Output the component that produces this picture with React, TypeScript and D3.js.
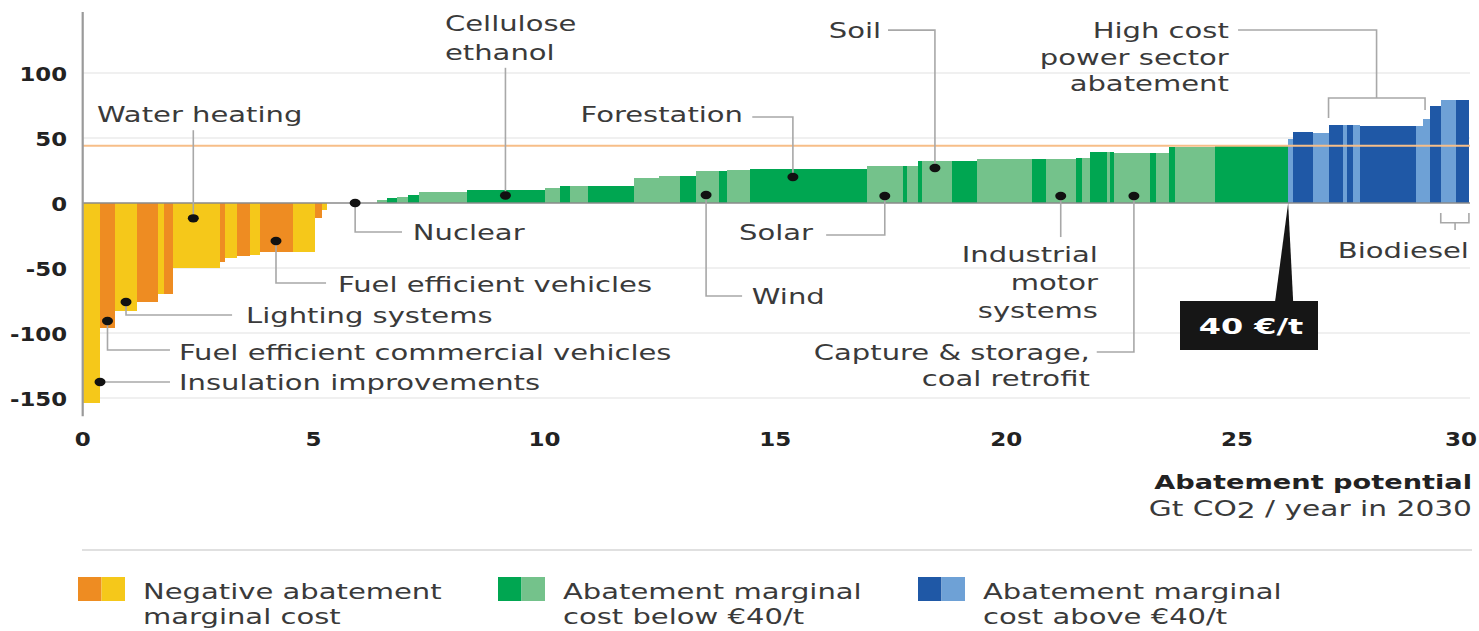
import React from 'react';
import * as d3 from 'd3';

// abatement levers, in merit order
const potential = [
  0.375, 0.325, 0.47, 0.47, 0.11, 0.195, 1.03, 0.11, 0.25, 0.29, 0.22, 0.72, 0.47, 0.145, 0.11,
  1.075,
  0.22, 0.22, 0.25, 0.22, 1.05, 1.695, 0.325, 0.2, 0.39, 1.0, 0.54, 0.455, 0.36, 0.48, 0.18, 0.5,
  2.54, 0.77, 0.09, 0.23, 0.095, 0.65, 0.54, 1.19, 0.3, 0.66, 0.12, 0.18, 0.36, 0.07, 0.09, 0.77,
  0.13, 0.3, 0.11, 0.87, 1.59,
  0.11, 0.43, 0.35, 0.3, 0.095, 0.12, 0.145, 1.21, 0.16, 0.16, 0.22, 0.325, 0.29,
];
const cost = [
  -154, -96, -83, -76, -70, -70, -50, -45, -42, -41, -40, -37.5, -37.5, -11.5, -5,
  0,
  2, 4, 5, 6.4, 8.5, 10.2, 11.5, 13.3, 13, 13.3, 19.5, 21, 21, 24.4, 24.4, 25.2,
  26.2, 28.5, 28.5, 28.5, 32, 32, 32, 34, 34, 34, 35, 35, 39, 39, 39, 38.5,
  38.5, 38.5, 43, 43, 43.5,
  49.5, 55, 54, 60, 60, 60, 60, 59.5, 59.5, 65, 74.5, 79.5, 79.5,
];
// d = dark tone, l = light tone
const shade = [
  'l', 'd', 'l', 'd', 'l', 'd', 'l', 'd', 'l', 'd', 'l', 'd', 'l', 'd', 'l',
  'd',
  'l', 'd', 'l', 'd', 'l', 'd', 'l', 'd', 'l', 'd', 'l', 'l', 'd', 'l', 'd', 'l',
  'd', 'l', 'd', 'l', 'd', 'l', 'd', 'l', 'd', 'l', 'd', 'l', 'd', 'l', 'd', 'l',
  'd', 'l', 'd', 'l', 'd',
  'l', 'd', 'l', 'd', 'l', 'd', 'l', 'd', 'l', 'l', 'd', 'l', 'd',
];

const PRICE_LINE = 44;
const xTicks = [0, 5, 10, 15, 20, 25, 30];
const yTicks = [100, 50, 0, -50, -100, -150];

const legendItems = [
  { group: 'neg', lines: ['Negative abatement', 'marginal cost'] },
  { group: 'low', lines: ['Abatement marginal', 'cost below €40/t'] },
  { group: 'high', lines: ['Abatement marginal', 'cost above €40/t'] },
];

type Pt = [number, number];
interface Note {
  lines: string[];
  dot?: Pt;
  paths: Pt[][];
  at: Pt;
  anchor: 'start' | 'end';
  lh?: number;
}

// dot / leader / text positions in data units (Gt, €/t)
const notes: Note[] = [
  { lines: ['Water heating'], dot: [2.395, -11.8], paths: [[[2.395, -11.8], [2.395, 56]]], at: [0.31, 62.3], anchor: 'start' },
  { lines: ['Cellulose', 'ethanol'], dot: [9.155, 5.8], paths: [[[9.155, 5.8], [9.155, 104]]], at: [7.845, 132.3], anchor: 'start', lh: 29 },
  { lines: ['Forestation'], dot: [15.38, 20], paths: [[[15.38, 20], [15.38, 66.2], [14.5, 66.2]]], at: [14.3, 62.3], anchor: 'end' },
  { lines: ['Soil'], dot: [18.456, 26.9], paths: [[[18.456, 26.9], [18.456, 133], [17.44, 133]]], at: [17.29, 127], anchor: 'end' },
  {
    lines: ['High cost', 'power sector', 'abatement'],
    paths: [
      [[26.98, 65.4], [26.98, 80.8], [29.07, 80.8], [29.07, 71.5]],
      [[28.02, 80.8], [28.02, 133.1], [25.02, 133.1]],
    ],
    at: [24.82, 126.9], anchor: 'end', lh: 26.5,
  },
  {
    lines: ['Biodiesel'],
    paths: [
      [[29.41, -7.7], [29.41, -15.2], [30.02, -15.2], [30.02, -7.7]],
      [[29.72, -15.2], [29.72, -20.8]],
    ],
    at: [30.02, -42.3], anchor: 'end',
  },
  { lines: ['Nuclear'], dot: [5.9, 0], paths: [[[5.9, 0], [5.9, -22.3], [6.915, -22.3]]], at: [7.15, -28.5], anchor: 'start' },
  { lines: ['Solar'], dot: [17.37, 5.4], paths: [[[17.37, 5.4], [17.37, -24.6], [16.1, -24.6]]], at: [15.815, -28.5], anchor: 'end' },
  { lines: ['Wind'], dot: [13.5, 6.2], paths: [[[13.5, 6.2], [13.5, -71.5], [14.28, -71.5]]], at: [14.49, -77.7], anchor: 'start' },
  { lines: ['Industrial', 'motor', 'systems'], dot: [21.18, 5.4], paths: [[[21.18, 5.4], [21.18, -26.2]]], at: [21.985, -45.4], anchor: 'end', lh: 28 },
  { lines: ['Capture & storage,', 'coal retrofit'], dot: [22.765, 5.4], paths: [[[22.765, 5.4], [22.765, -114.6], [21.96, -114.6]]], at: [21.81, -120.8], anchor: 'end', lh: 26 },
  { lines: ['Fuel efficient vehicles'], dot: [4.186, -29.2], paths: [[[4.186, -29.2], [4.186, -61.5], [5.27, -61.5]]], at: [5.53, -68.5], anchor: 'start' },
  { lines: ['Lighting systems'], dot: [0.938, -76.2], paths: [[[0.938, -76.2], [0.938, -86.2], [3.235, -86.2]]], at: [3.536, -92.3], anchor: 'start' },
  { lines: ['Fuel efficient commercial vehicles'], dot: [0.537, -90.8], paths: [[[0.537, -90.8], [0.537, -113.1], [1.89, -113.1]]], at: [2.085, -120.8], anchor: 'start' },
  { lines: ['Insulation improvements'], dot: [0.375, -137.7], paths: [[[0.375, -137.7], [1.89, -137.7]]], at: [2.085, -143.8], anchor: 'start' },
];

const palette: Record<string, { d: string; l: string }> = {
  neg: { d: '#EE8C22', l: '#F5C81A' },
  low: { d: '#00A651', l: '#74C28B' },
  high: { d: '#1F58A6', l: '#6EA1D6' },
};

const FONT = 'DejaVu Sans';
const INK = '#3a3a3a';

const Txt = ({ x, y, children, anchor = 'start', size = 22, weight = 400, sx = 1.32, fill = INK }: any) => (
  <text
    transform={`translate(${x},${y}) scale(${sx},1)`}
    textAnchor={anchor}
    fontSize={size}
    fontWeight={weight}
    fontFamily={FONT}
    fill={fill}
  >
    {children}
  </text>
);

export default function App() {
  const W = 1479;
  const H = 631;
  const x = d3.scaleLinear().domain([0, 30]).range([82.7, 1468]);
  const y = d3.scaleLinear().domain([-150, 100]).range([398, 73]);
  const line = d3.line<Pt>().x((d) => x(d[0])).y((d) => y(d[1]));

  let cum = 0;
  const bars = potential.map((w, i) => {
    const x0 = cum;
    cum += w;
    const c = cost[i];
    const group = c < 0 ? 'neg' : c <= PRICE_LINE ? 'low' : 'high';
    return { x0, x1: cum, c, fill: palette[group][shade[i] as 'd' | 'l'] };
  });
  const firstHigh = bars.find((b) => b.c > PRICE_LINE)!;
  const tipX = x(firstHigh.x0);

  const xL = x(0);
  const xR = x(30);

  return (
    <svg width={W} height={H} style={{ position: 'absolute', left: 0, top: 0, background: '#fff' }}>
      {/* grid */}
      {yTicks.filter((t) => t !== 0).map((t) => (
        <line key={t} x1={xL} x2={xR + 2} y1={y(t)} y2={y(t)} stroke="#e2e2e2" strokeWidth={1.2} />
      ))}

      {/* bars */}
      <g shapeRendering="crispEdges">
        {bars.map((b, i) => (
          <rect
            key={i}
            x={x(b.x0)}
            width={x(b.x1) - x(b.x0)}
            y={y(Math.max(0, b.c))}
            height={Math.abs(y(b.c) - y(0))}
            fill={b.fill}
          />
        ))}
      </g>

      {/* 40 €/t reference line */}
      <line x1={xL} x2={xR + 2} y1={y(PRICE_LINE)} y2={y(PRICE_LINE)} stroke="#F7BE88" strokeWidth={2} />

      {/* zero line and axis */}
      <line x1={xL} x2={xR + 2} y1={y(0)} y2={y(0)} stroke="#8a8a8a" strokeWidth={1.6} />
      <line x1={xL} x2={xL} y1={y(147)} y2={y(-164)} stroke="#9a9a9a" strokeWidth={2.2} />

      {yTicks.map((t) => (
        <Txt key={t} x={67} y={y(t) + 8} anchor="end" size={19} weight={700} sx={1.2} fill="#222">
          {t}
        </Txt>
      ))}
      {xTicks.map((t, i) => {
        const last = i === xTicks.length - 1;
        return (
          <Txt key={t} x={last ? W - 2 : x(t)} y={446} anchor={last ? 'end' : 'middle'} size={20} weight={700} sx={1.15} fill="#222">
            {t}
          </Txt>
        );
      })}

      {/* leaders, dots and labels */}
      {notes.map((n, i) => (
        <g key={i}>
          {n.paths.map((p, j) => (
            <path key={j} d={line(p)!} fill="none" stroke="#a8a8a8" strokeWidth={1.6} />
          ))}
          {n.dot && <ellipse cx={x(n.dot[0])} cy={y(n.dot[1])} rx={5.5} ry={4.2} fill="#111" />}
          {n.lines.map((s, j) => (
            <Txt key={j} x={x(n.at[0])} y={y(n.at[1]) + j * (n.lh || 26)} anchor={n.anchor}>
              {s}
            </Txt>
          ))}
        </g>
      ))}

      {/* 40 €/t callout */}
      <polygon points={`${tipX},${y(0)} ${tipX + 5},301 ${tipX - 13},301`} fill="#161616" />
      <rect x={1180} y={301} width={138} height={49} fill="#161616" />
      <Txt x={1251} y={334} anchor="middle" size={22} weight={700} sx={1.45} fill="#fff">
        40 €/t
      </Txt>

      {/* axis title */}
      <Txt x={1472} y={489} anchor="end" size={20} weight={700} sx={1.36} fill="#222">
        Abatement potential
      </Txt>
      <Txt x={1472} y={516} anchor="end" size={21.5} sx={1.38}>
        Gt CO<tspan dy={2}>2</tspan><tspan dy={-2}> / year in 2030</tspan>
      </Txt>

      <line x1={82} x2={1472} y1={550} y2={550} stroke="#e0e0e0" strokeWidth={2} />

      {/* legend */}
      {legendItems.map((it, i) => {
        const lx = 78 + i * 420;
        return (
          <g key={it.group}>
            <rect x={lx} y={577} width={23.5} height={24} fill={palette[it.group].d} />
            <rect x={lx + 23.5} y={577} width={23.5} height={24} fill={palette[it.group].l} />
            {it.lines.map((s, j) => (
              <Txt key={j} x={lx + 65} y={599 + j * 25}>
                {s}
              </Txt>
            ))}
          </g>
        );
      })}
    </svg>
  );
}
